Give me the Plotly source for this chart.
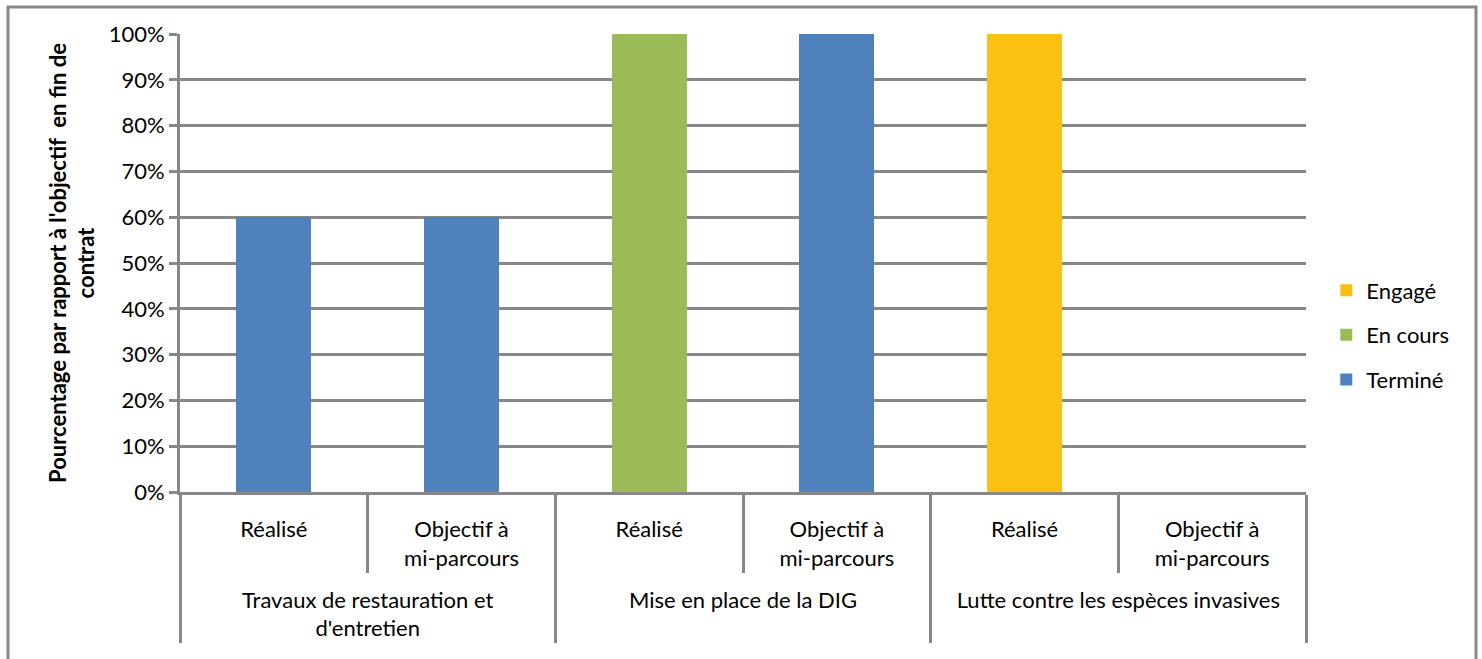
import plotly.graph_objects as go

# Categories (outer group, inner label)
groups = ["Travaux de restauration et<br>d'entretien",
          "Mise en place de la DIG",
          "Lutte contre les espèces invasives"]
sub_labels = ["Réalisé", "Objectif à<br>mi-parcours"]

# trailing blank line keeps the group row clear of the sub-labels
outer = [g for g in groups for _ in sub_labels]
inner = [s + "<br>\u00a0" for _ in groups for s in sub_labels]

# Share of the end-of-contract target, per status
termine = [0.60, 0.60, 0.00, 1.00, 0.00, 0.00]
en_cours = [0.00, 0.00, 1.00, 0.00, 0.00, 0.00]
engage = [0.00, 0.00, 0.00, 0.00, 1.00, 0.00]

# listed in legend order (top to bottom)
series = [
    ("Engagé", engage, "#FAC012"),
    ("En cours", en_cours, "#9BBB59"),
    ("Terminé", termine, "#4F81BD"),
]

GRID = "#878787"
FONT = "Lato, 'Open Sans', sans-serif"
FS = 22

fig = go.Figure()
for name, vals, color in series:
    fig.add_trace(go.Bar(x=[outer, inner], y=vals, name=name, legendgroup=name,
                         marker=dict(color=color, line=dict(width=0))))

fig.update_layout(
    width=1482, height=659,
    margin=dict(l=180, r=176, t=34, b=167),
    barmode="stack", bargap=0.6,
    plot_bgcolor="white", paper_bgcolor="white",
    font=dict(family=FONT, size=FS, color="black"),
    legend=dict(traceorder="grouped", x=1.018, y=0.343,
                yanchor="middle", xanchor="left", font=dict(size=FS),
                tracegroupgap=13),
    showlegend=True,
)

fig.update_yaxes(range=[0, 1], dtick=0.1, tickformat=".0%",
                 showgrid=True, gridcolor=GRID, gridwidth=3,
                 showline=True, linecolor=GRID, linewidth=3,
                 ticks="outside", ticklen=8, tickwidth=3, tickcolor=GRID,
                 zeroline=False, tickfont=dict(size=FS),
                 title=dict(text="<b>Pourcentage par rapport à l'objectif  en fin de<br>contrat</b>",
                            font=dict(size=FS), standoff=8))

fig.update_xaxes(showline=True, linecolor=GRID, linewidth=3,
                 ticks="outside", tickson="boundaries", ticklen=78,
                 tickwidth=3, tickcolor=GRID, ticklabelstandoff=16,
                 showdividers=True, dividercolor=GRID, dividerwidth=3,
                 tickfont=dict(size=FS))

# Outer chart frame
fig.add_shape(type="rect", xref="paper", yref="paper",
              x0=(8 - 180) / 1126, x1=(1476 - 180) / 1126,
              y0=-0.6, y1=(492 - 7) / 458,
              line=dict(color=GRID, width=3), layer="below")

fig.write_html("out.html")
